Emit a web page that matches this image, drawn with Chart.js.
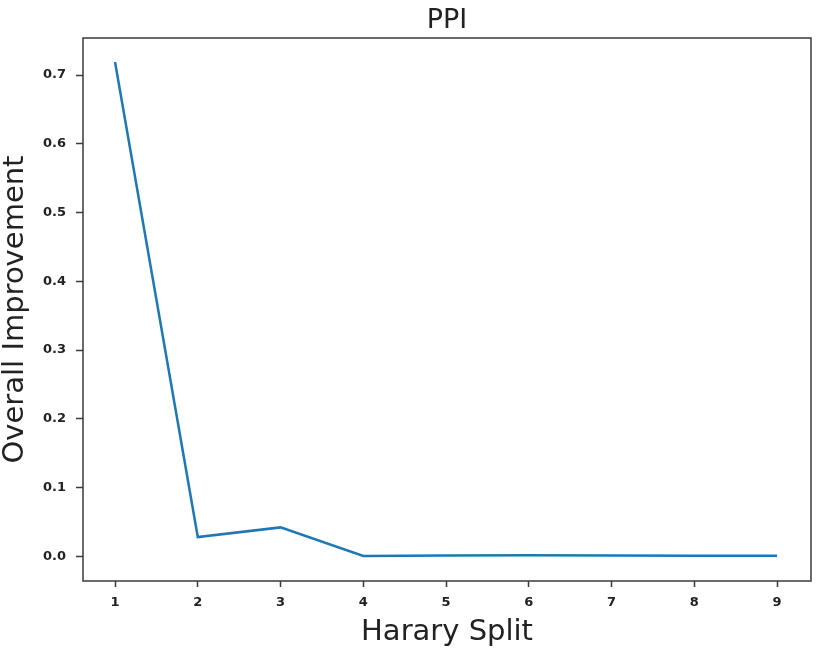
<!DOCTYPE html>
<html>
<head>
<meta charset="utf-8">
<script src="https://cdn.jsdelivr.net/npm/chart.js@4"></script>
<style>
  html, body { margin: 0; padding: 0; background: #fff; }
  #wrap { width: 831px; height: 657px; }
</style>
</head>
<body>
<div id="wrap"><canvas id="lineChart" width="831" height="657"></canvas></div>
<script>
// Harary split -> overall improvement (PPI)
const splits = [1, 2, 3, 4, 5, 6, 7, 8, 9]
const improvement = [0.719, 0.028, 0.042, 0.0005, 0.001, 0.0015, 0.001, 0.0008, 0.0008]
const xTicks = [1, 2, 3, 4, 5, 6, 7, 8, 9]
const yTicks = [0.0, 0.1, 0.2, 0.3, 0.4, 0.5, 0.6, 0.7]

const frameColor = '#3a3a3a'

// draw the box round the plot area (matplotlib style)
const framePlugin = {
  id: 'frame',
  afterDraw(chart) {
    const { ctx, chartArea: a } = chart
    ctx.save()
    ctx.strokeStyle = frameColor
    ctx.lineWidth = 1.5
    ctx.strokeRect(a.left, a.top, a.right - a.left, a.bottom - a.top)
    ctx.restore()
  }
}

const tickFont = { family: 'DejaVu Sans', size: 13, weight: 'bold' }

const ctx = document.getElementById('lineChart').getContext('2d')
new Chart(ctx, {
  type: 'line',
  data: {
    datasets: [{
      data: splits.map((s, i) => ({ x: s, y: improvement[i] })),
      borderColor: '#1f77b4',
      borderWidth: 2.5,
      pointRadius: 0,
      tension: 0,
      fill: false
    }]
  },
  options: {
    responsive: false,
    animation: false,
    layout: { padding: { left: 0, right: 20, top: 0, bottom: 0 } },
    plugins: {
      legend: { display: false },
      tooltip: { enabled: false },
      title: {
        display: true,
        fullSize: false, // centre over the plot area
        text: 'PPI',
        color: '#222',
        font: { family: 'DejaVu Sans', size: 27, weight: 'normal', lineHeight: 1.0 },
        padding: { top: 7, bottom: 4 }
      }
    },
    scales: {
      x: {
        type: 'linear',
        min: 0.613,
        max: 9.41,
        afterBuildTicks: (scale) => { scale.ticks = xTicks.map(v => ({ value: v })) },
        afterFit: (scale) => { scale.height = 76 },
        grid: { drawOnChartArea: false, drawTicks: true, tickLength: 6, tickColor: frameColor, tickWidth: 1.5 },
        border: { display: false },
        ticks: { color: '#222', font: tickFont, padding: 8, maxRotation: 0, callback: v => String(v) },
        title: {
          display: true,
          text: 'Harary Split',
          color: '#222',
          font: { family: 'DejaVu Sans', size: 29, weight: 'normal', lineHeight: 1.0 },
          padding: { top: 0, bottom: 10 }
        }
      },
      y: {
        min: -0.036,
        max: 0.754,
        afterBuildTicks: (scale) => { scale.ticks = yTicks.map(v => ({ value: v })) },
        afterFit: (scale) => { scale.width = 83 },
        grid: { drawOnChartArea: false, drawTicks: true, tickLength: 7, tickColor: frameColor, tickWidth: 1.5 },
        border: { display: false },
        ticks: { color: '#222', font: tickFont, padding: 10, callback: v => Number(v).toFixed(1) },
        title: {
          display: true,
          text: 'Overall Improvement',
          color: '#222',
          font: { family: 'DejaVu Sans', size: 29, weight: 'normal', lineHeight: 1.0 },
          padding: { top: 1, bottom: 0 }
        }
      }
    }
  },
  plugins: [framePlugin]
})
</script>
</body>
</html>
